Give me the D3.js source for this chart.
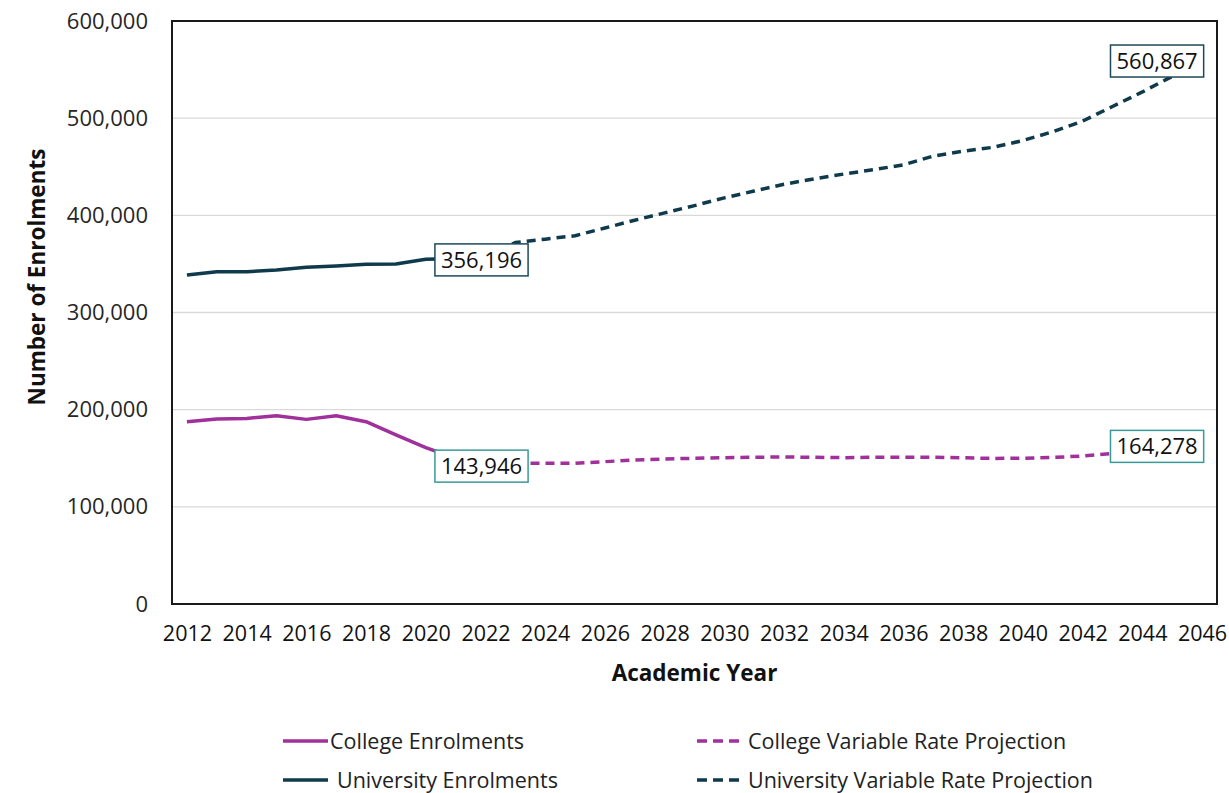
<!DOCTYPE html>
<html>
<head>
<meta charset="utf-8">
<script src="https://cdnjs.cloudflare.com/ajax/libs/d3/7.8.5/d3.min.js"></script>
<style>
    body { margin: 0; background: #ffffff; }
    text { font-family: "Open Sans", "Noto Sans", sans-serif; fill: #111; }
</style>
</head>
<body>
<div id="chart"></div>
<script>

var historyYears = [2012, 2013, 2014, 2015, 2016, 2017, 2018, 2019, 2020, 2021, 2022];
var collegeEnrolments = [187600, 190400, 191000, 193800, 190000, 193800, 187600, 174000, 161000, 150000, 143946];
var universityEnrolments = [338600, 342000, 342000, 343700, 346500, 347800, 349600, 350000, 354700, 355500, 356196];

var projectionYears = [2022, 2023, 2024, 2025, 2026, 2027, 2028, 2029, 2030, 2031, 2032, 2033, 2034,
    2035, 2036, 2037, 2038, 2039, 2040, 2041, 2042, 2043, 2044, 2045, 2046];
var collegeProjection = [143946, 145000, 144800, 144800, 146500, 148200, 149200, 150000, 150600, 151000, 151300, 151000, 150600,
    151000, 151000, 151000, 150500, 149800, 150000, 150800, 152300, 154800, 158000, 161000, 164278];
var universityProjection = [356196, 372000, 375500, 379000, 387000, 395000, 402500, 410000, 418000, 425000, 432000, 437500, 442500,
    447000, 452000, 461000, 466000, 470000, 477000, 486000, 497000, 512000, 527000, 543000, 560867];

var axisYears = [2012, 2013, 2014, 2015, 2016, 2017, 2018, 2019, 2020, 2021, 2022, 2023, 2024, 2025, 2026, 2027, 2028, 2029,
    2030, 2031, 2032, 2033, 2034, 2035, 2036, 2037, 2038, 2039, 2040, 2041, 2042, 2043, 2044, 2045, 2046];
var xTickYears = [2012, 2014, 2016, 2018, 2020, 2022, 2024, 2026, 2028, 2030, 2032, 2034, 2036, 2038, 2040, 2042, 2044, 2046];
var yTicks = [0, 100000, 200000, 300000, 400000, 500000, 600000];

var legendNames = ['College Enrolments', 'University Enrolments', 'College Variable Rate Projection', 'University Variable Rate Projection'];

var collegeColour = '#a0309a';
var universityColour = '#0f3a4b';

var width = 1229;
var height = 793;
var margin = { top: 21, right: 12, bottom: 189, left: 172 };

var svg = d3.select('#chart').append('svg')
    .attr('width', width)
    .attr('height', height);

var x = d3.scalePoint()
    .domain(axisYears)
    .range([margin.left, width - margin.right])
    .padding(0.5);

var y = d3.scaleLinear()
    .domain([0, 600000])
    .range([height - margin.bottom, margin.top]);

var fmt = d3.format(',');

// gridlines
svg.append('g')
    .selectAll('line')
    .data(yTicks.slice(1, -1))
    .enter().append('line')
    .attr('x1', margin.left)
    .attr('x2', width - margin.right)
    .attr('y1', function(d) { return y(d); })
    .attr('y2', function(d) { return y(d); })
    .attr('stroke', '#d9d9d9')
    .attr('stroke-width', 1.3);

var yAxis = svg.append('g')
    .attr('transform', 'translate(' + margin.left + ',0)')
    .call(d3.axisLeft(y).tickValues(yTicks).tickFormat(fmt).tickSize(0).tickPadding(24));
yAxis.select('.domain').remove();
yAxis.selectAll('text')
    .style('font-size', '22px')
    .style('fill', '#262626');

var xAxis = svg.append('g')
    .attr('transform', 'translate(0,' + (height - margin.bottom) + ')')
    .call(d3.axisBottom(x).tickValues(xTickYears).tickSize(0).tickPadding(22));
xAxis.select('.domain').remove();
xAxis.selectAll('text')
    .style('font-size', '21.5px')
    .style('fill', '#111');

// plot area border
svg.append('rect')
    .attr('x', margin.left)
    .attr('y', margin.top)
    .attr('width', width - margin.left - margin.right)
    .attr('height', height - margin.top - margin.bottom)
    .attr('fill', 'none')
    .attr('stroke', '#1a1a1a')
    .attr('stroke-width', 2);

svg.append('text')
    .attr('transform', 'translate(45,' + 277 + ') rotate(-90)')
    .attr('text-anchor', 'middle')
    .style('font-size', '22.5px')
    .style('font-weight', 'bold')
    .text('Number of Enrolments');

svg.append('text')
    .attr('x', (margin.left + width - margin.right) / 2)
    .attr('y', 681)
    .attr('text-anchor', 'middle')
    .style('font-size', '22.5px')
    .style('font-weight', 'bold')
    .text('Academic Year');

function drawLine(years, values, colour, dashed) {
    var line = d3.line()
        .x(function(d, i) { return x(years[i]); })
        .y(function(d) { return y(d); });

    svg.append('path')
        .datum(values)
        .attr('d', line)
        .attr('fill', 'none')
        .attr('stroke', colour)
        .attr('stroke-width', 3.5)
        .attr('stroke-linejoin', 'round')
        .attr('stroke-dasharray', dashed ? '9,6' : null);
}

drawLine(projectionYears, collegeProjection, collegeColour, true);
drawLine(projectionYears, universityProjection, universityColour, true);
drawLine(historyYears, collegeEnrolments, collegeColour, false);
drawLine(historyYears, universityEnrolments, universityColour, false);

// data labels
function drawLabel(year, value, border, shift) {
    var cx = x(year) + shift;
    var cy = y(value) + 2;
    var g = svg.append('g');
    var t = g.append('text')
        .attr('x', cx)
        .attr('y', cy)
        .attr('dy', '0.35em')
        .attr('text-anchor', 'middle')
        .style('font-size', '22px')
        .text(fmt(value));
    var b = t.node().getBBox();
    g.insert('rect', 'text')
        .attr('x', b.x - 6)
        .attr('y', cy - 16)
        .attr('width', b.width + 12)
        .attr('height', 32)
        .attr('fill', '#ffffff')
        .attr('stroke', border)
        .attr('stroke-width', 1.5);
}

drawLabel(historyYears[historyYears.length - 1], universityEnrolments[universityEnrolments.length - 1], '#1d4a5a', -4);
drawLabel(historyYears[historyYears.length - 1], collegeEnrolments[collegeEnrolments.length - 1], '#3a9a96', -4);
drawLabel(projectionYears[projectionYears.length - 1], universityProjection[universityProjection.length - 1], '#1d4a5a', -45);
drawLabel(projectionYears[projectionYears.length - 1], collegeProjection[collegeProjection.length - 1], '#3a9a96', -45);

// legend
var legendItems = [
    { name: legendNames[0], colour: collegeColour, dashed: false, lx: 283, ly: 741, tx: 330 },
    { name: legendNames[1], colour: universityColour, dashed: false, lx: 283, ly: 780, tx: 337 },
    { name: legendNames[2], colour: collegeColour, dashed: true, lx: 697, ly: 741, tx: 748 },
    { name: legendNames[3], colour: universityColour, dashed: true, lx: 697, ly: 780, tx: 748 }
];

legendItems.forEach(function(item) {
    svg.append('line')
        .attr('x1', item.lx)
        .attr('x2', item.lx + 45)
        .attr('y1', item.ly)
        .attr('y2', item.ly)
        .attr('stroke', item.colour)
        .attr('stroke-width', 3.5)
        .attr('stroke-dasharray', item.dashed ? '10,6' : null);
    svg.append('text')
        .attr('x', item.tx)
        .attr('y', item.ly)
        .attr('dy', '0.35em')
        .style('font-size', '21.5px')
        .style('fill', '#222')
        .text(item.name);
});

</script>
</body>
</html>
